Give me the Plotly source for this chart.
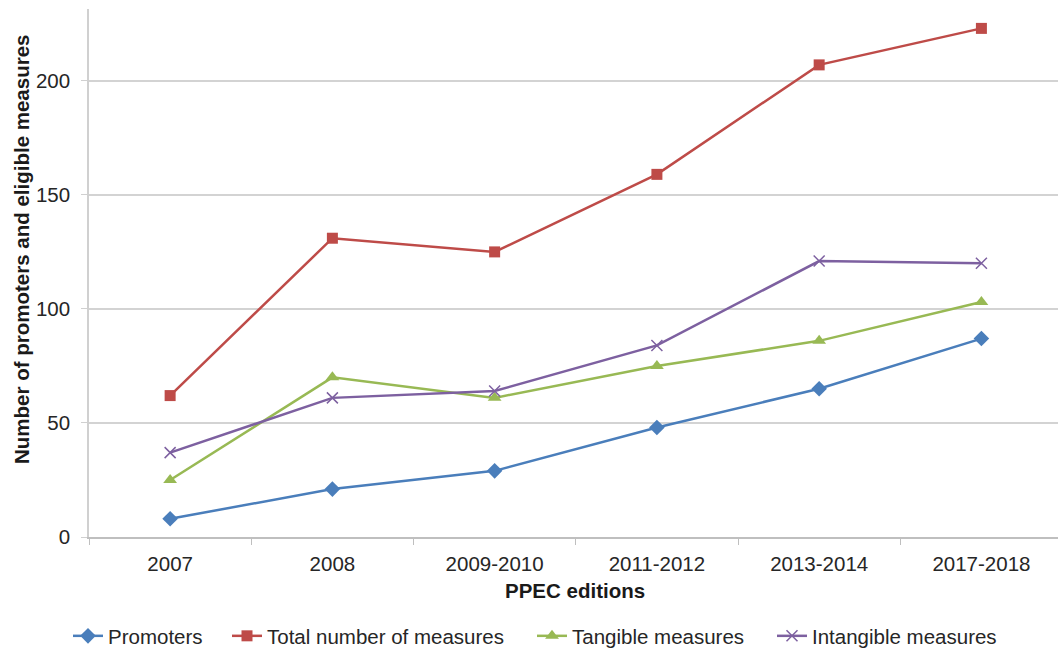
import plotly.graph_objects as go

editions = ["2007", "2008", "2009-2010", "2011-2012", "2013-2014", "2017-2018"]
promoters = [8, 21, 29, 48, 65, 87]
total_measures = [62, 131, 125, 159, 207, 223]
tangible = [25, 70, 61, 75, 86, 103]
intangible = [37, 61, 64, 84, 121, 120]

series = [
    ("Promoters", promoters, "#4A7EBB", "diamond", 12),
    ("Total number of measures", total_measures, "#BE4B48", "square", 11),
    ("Tangible measures", tangible, "#98B954", "triangle-up", 12),
    ("Intangible measures", intangible, "#7D60A0", "x-thin", 11),
]

# left pixel edge of each legend entry's symbol
legend_left_px = [73, 232, 537, 777]

font_family = "Liberation Sans, Arial, sans-serif"
W, H = 1058, 654

fig = go.Figure()
legend_layouts = {}
for i, (name, vals, color, symbol, size) in enumerate(series):
    marker = dict(symbol=symbol, size=size, color=color)
    if symbol == "x-thin":
        marker["line"] = dict(color=color, width=1.5)
    lg = "legend" if i == 0 else f"legend{i + 1}"
    fig.add_trace(go.Scatter(
        x=editions, y=vals, name=name, mode="lines+markers",
        line=dict(color=color, width=2.5), marker=marker, legend=lg,
    ))
    legend_layouts[lg] = dict(
        orientation="h", x=(legend_left_px[i] - 5) / W, xref="container",
        xanchor="left", y=1 - 636 / H, yref="container", yanchor="middle",
        font=dict(size=20.5, color="#262626"), itemwidth=30,
        bgcolor="rgba(0,0,0,0)",
    )

# plot area in pixels
plot_l, plot_r, plot_t, plot_b = 89, 1058, 9, 537
pw, ph = plot_r - plot_l, plot_b - plot_t

fig.update_layout(
    width=W, height=H,
    margin=dict(l=plot_l, r=W - plot_r, t=plot_t, b=H - plot_b),
    paper_bgcolor="white", plot_bgcolor="white",
    font=dict(family=font_family, size=20, color="#262626"),
    showlegend=True,
    xaxis=dict(
        type="category", range=[-0.5, 5.472],
        showline=True, linecolor="#BFBFBF", linewidth=1.5,
        ticks="outside", tickson="boundaries", ticklen=6, tickcolor="#BFBFBF",
        showgrid=False, tickfont=dict(size=20.5, color="#262626"),
        ticklabelstandoff=8,
    ),
    yaxis=dict(
        range=[0, 231.5], tickvals=[0, 50, 100, 150, 200],
        showline=True, linecolor="#D0D0D0", linewidth=1.5,
        ticks="outside", ticklen=6, tickcolor="#D0D0D0",
        showgrid=True, gridcolor="#D3D3D3", gridwidth=1.5,
        zeroline=False, tickfont=dict(size=20.5, color="#262626"),
        ticklabelstandoff=7,
    ),
    annotations=[
        dict(text="<b>PPEC editions</b>", xref="paper", yref="paper",
             x=(575 - plot_l) / pw, y=(plot_b - 590) / ph,
             xanchor="center", yanchor="middle", showarrow=False,
             font=dict(size=20.5, color="#1a1a1a")),
        dict(text="<b>Number of promoters and eligible measures</b>",
             xref="paper", yref="paper",
             x=(21 - plot_l) / pw, y=(plot_b - 250) / ph,
             xanchor="center", yanchor="middle",
             textangle=-90, showarrow=False,
             font=dict(size=20.5, color="#1a1a1a")),
    ],
    **legend_layouts,
)

fig.write_html("out.html")
